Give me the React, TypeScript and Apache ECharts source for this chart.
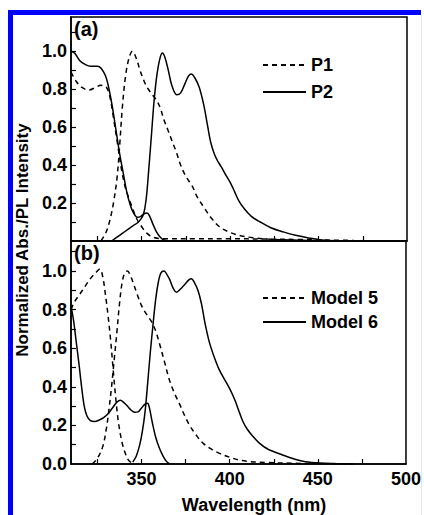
import React, { useEffect, useRef } from "react";
import * as echarts from "echarts";

// ---- data (wavelength nm, normalized intensity) ----
const p1Abs = [[310,0.89],[313,0.84],[316,0.81],[320,0.795],[324,0.81],[327,0.82],[330,0.81],[332,0.76],[334,0.65],[336.5,0.5],[338.5,0.38],[340.5,0.29],[342.5,0.23],[344.5,0.18],[347,0.12],[350,0.075],[353,0.04],[356.5,0.02],[362,0.012],[380,0.012],[400,0.012],[420,0.01],[440,0.008],[455,0.005],[470,0.003]];
const p1Em = [[327,0],[330,0.05],[332,0.11],[334,0.2],[336,0.33],[337.5,0.5],[339,0.7],[341,0.88],[343,0.97],[344.7,1.0],[347,0.96],[349,0.9],[351,0.85],[353,0.81],[356,0.77],[358.5,0.74],[360.5,0.7],[362.5,0.64],[365,0.58],[367,0.53],[369.5,0.47],[372,0.4],[375,0.34],[378.5,0.29],[381.5,0.23],[385,0.18],[389,0.125],[394,0.075],[400,0.045],[406,0.028],[413,0.017],[421,0.01],[435,0.005],[450,0.002]];
const p2Abs = [[310,1.0],[312,0.99],[315,0.95],[318,0.93],[321,0.92],[325,0.92],[327,0.91],[329.5,0.87],[331.5,0.8],[333.5,0.7],[335.5,0.58],[337.5,0.46],[339.5,0.36],[341.5,0.26],[343.5,0.19],[345.5,0.145],[347.5,0.125],[349.5,0.13],[351.5,0.145],[353,0.148],[354.5,0.13],[356.5,0.085],[358.5,0.045],[360.5,0.02],[362.5,0.005],[365,0]];
const p2Em = [[333,0],[336,0.02],[339,0.04],[342,0.06],[345,0.08],[347.5,0.095],[349.5,0.115],[351,0.14],[352.5,0.22],[354,0.38],[355.5,0.56],[357,0.74],[358.5,0.87],[360,0.95],[361.6,0.99],[363,0.97],[365,0.9],[367,0.82],[369.8,0.77],[372,0.78],[374.5,0.83],[376.5,0.87],[378,0.88],[380,0.86],[382.5,0.81],[385,0.72],[387,0.62],[389,0.52],[391,0.46],[393,0.42],[395,0.39],[398,0.34],[400.5,0.3],[402.5,0.26],[405,0.21],[408,0.17],[412,0.13],[417,0.1],[423,0.07],[430,0.048],[437,0.03],[445,0.015],[452,0.005],[460,0.001]];
const m5Abs = [[310,0.8],[312,0.84],[315,0.88],[318,0.92],[321,0.96],[324,0.99],[326.4,1.01],[328,0.97],[329.5,0.88],[331,0.77],[332.5,0.64],[334,0.48],[335.5,0.33],[337,0.21],[339,0.11],[341,0.05],[343,0.015],[346,0]];
const m5Em = [[322,0],[325,0.03],[328,0.09],[330,0.18],[331.5,0.28],[333,0.4],[334.5,0.54],[336,0.68],[337.5,0.83],[339,0.94],[340.5,0.99],[342,1.0],[343.5,0.98],[345.2,0.94],[347.5,0.88],[350,0.82],[352.5,0.78],[355.5,0.74],[358,0.69],[360.3,0.62],[363,0.53],[366,0.43],[369,0.36],[371.6,0.31],[374.5,0.25],[377.3,0.2],[381,0.15],[385,0.107],[390,0.075],[394.3,0.055],[400,0.035],[405.6,0.02],[412,0.012],[420,0.008],[435,0.004],[450,0.002],[470,0]];
const m6Abs = [[310,0.82],[311.5,0.74],[313,0.63],[314.5,0.52],[316,0.4],[317.5,0.3],[319,0.25],[321,0.225],[323.5,0.22],[326,0.228],[328.5,0.24],[331,0.26],[333.5,0.29],[336,0.32],[338,0.33],[340,0.318],[342,0.3],[344,0.28],[346,0.268],[348,0.27],[350,0.29],[352,0.31],[353.4,0.315],[354.5,0.29],[356,0.22],[358,0.14],[360,0.085],[362,0.045],[364,0.015],[366,0]];
const m6Em = [[345,0.01],[347,0.04],[349,0.1],[350.5,0.17],[352,0.27],[353.5,0.42],[355,0.58],[356.5,0.72],[358,0.85],[359.5,0.94],[361,0.99],[362.8,1.0],[364.5,0.98],[366,0.955],[368,0.91],[369.8,0.89],[372,0.905],[374.5,0.93],[377,0.955],[378.3,0.96],[380,0.94],[382,0.9],[384,0.83],[386,0.73],[388.5,0.63],[391,0.56],[394,0.49],[397,0.44],[400,0.39],[403,0.33],[405,0.28],[407.5,0.22],[410,0.18],[413,0.145],[417,0.107],[422,0.075],[430,0.047],[437,0.025],[443,0.012],[451,0.005],[460,0.002],[470,0]];

const xTicks = [325, 350, 375, 400, 425, 450, 475];
const xLabels = [350, 400, 450, 500];
const yTicks = [0.1, 0.2, 0.3, 0.4, 0.5, 0.6, 0.7, 0.8, 0.9, 1.0, 1.1];
const yLabelsTop = [0.2, 0.4, 0.6, 0.8, 1.0];
const yLabelsBottom = [0.0, 0.2, 0.4, 0.6, 0.8, 1.0];

const FONT = "'Liberation Sans', Arial, sans-serif";

export default function App() {
  const ref = useRef<HTMLDivElement>(null);
  useEffect(() => {
    if (!ref.current) return;
    const chart = echarts.init(ref.current, null, { renderer: "svg" });
    const lab = { fontFamily: FONT, fontWeight: "bold" as const, fontSize: 18, color: "#000" };
    const mkLine = (name: string, data: number[][], dashed: boolean, gi: number) => ({
      type: "line", name, data, xAxisIndex: gi, yAxisIndex: gi,
      symbol: "none", showSymbol: false, smooth: 0.35,
      lineStyle: { color: "#000", width: 1.5, type: dashed ? [5, 4] : "solid" },
      itemStyle: { color: "#000" },
    });
    const xAxisBase = (gi: number, showLabel: boolean) => ({
      type: "value", gridIndex: gi, min: 310, max: 500,
      splitLine: { show: false },
      axisLine: { lineStyle: { color: "#000", width: 1.5 } },
      axisTick: { inside: true, length: 5, customValues: xTicks, lineStyle: { color: "#000", width: 1.2 } },
      axisLabel: { show: showLabel, customValues: xLabels, margin: 6, ...lab },
    });
    const yAxisBase = (gi: number, max: number, labels: number[]) => ({
      type: "value", gridIndex: gi, min: 0, max,
      splitLine: { show: false },
      axisLine: { lineStyle: { color: "#000", width: 1.5 } },
      axisTick: { inside: true, length: 5, customValues: yTicks, lineStyle: { color: "#000", width: 1.2 } },
      axisLabel: { customValues: labels, margin: 4, formatter: (v: number) => v.toFixed(1), ...lab },
    });
    const legendBase = {
      orient: "vertical", left: 257, itemWidth: 43, itemHeight: 14,
      itemStyle: { opacity: 0 }, textStyle: { ...lab },
    };
    chart.setOption({
      animation: false,
      backgroundColor: "#fff",
      grid: [
        { left: 71, top: 17, width: 336, height: 224, show: true, borderColor: "#000", borderWidth: 1.5 },
        { left: 71, top: 241, width: 336, height: 223, show: true, borderColor: "#000", borderWidth: 1.5 },
      ],
      xAxis: [xAxisBase(0, false), xAxisBase(1, true)],
      yAxis: [yAxisBase(0, 1.18, yLabelsTop), yAxisBase(1, 1.155, yLabelsBottom)],
      legend: [
        { ...legendBase, data: ["P1", "P2"], top: 51, itemGap: 9 },
        { ...legendBase, data: ["Model 5", "Model 6"], top: 284, itemGap: 6 },
      ],
      series: [
        mkLine("P1", p1Abs, true, 0),
        mkLine("P1", p1Em, true, 0),
        mkLine("P2", p2Abs, false, 0),
        mkLine("P2", p2Em, false, 0),
        mkLine("Model 5", m5Abs, true, 1),
        mkLine("Model 5", m5Em, true, 1),
        mkLine("Model 6", m6Abs, false, 1),
        mkLine("Model 6", m6Em, false, 1),
      ],
      graphic: [
        { type: "rect", shape: { x: 8, y: 10, width: 5, height: 505 }, style: { fill: "#0000ff" } },
        { type: "rect", shape: { x: 8, y: 10, width: 413, height: 5 }, style: { fill: "#0000ff" } },
        { type: "line", shape: { x1: 421.5, y1: 15, x2: 421.5, y2: 515 }, style: { stroke: "#e4e4ee", lineWidth: 1 } },
        { type: "text", left: 74, top: 19, style: { text: "(a)", fill: "#000", font: "bold 20px " + FONT } },
        { type: "text", left: 74, top: 243, style: { text: "(b)", fill: "#000", font: "bold 20px " + FONT } },
        { type: "text", x: 254, y: 505, style: { text: "Wavelength (nm)", fill: "#000", font: "bold 18px " + FONT, align: "center", verticalAlign: "middle" } },
        { type: "text", x: 22, y: 240, rotation: Math.PI / 2, style: { text: "Normalized Abs./PL Intensity", fill: "#000", font: "bold 17px " + FONT, align: "center", verticalAlign: "middle" } },
      ],
    });
    return () => chart.dispose();
  }, []);
  return <div ref={ref} style={{ position: "fixed", left: 0, top: 0, width: 424, height: 515 }} />;
}
